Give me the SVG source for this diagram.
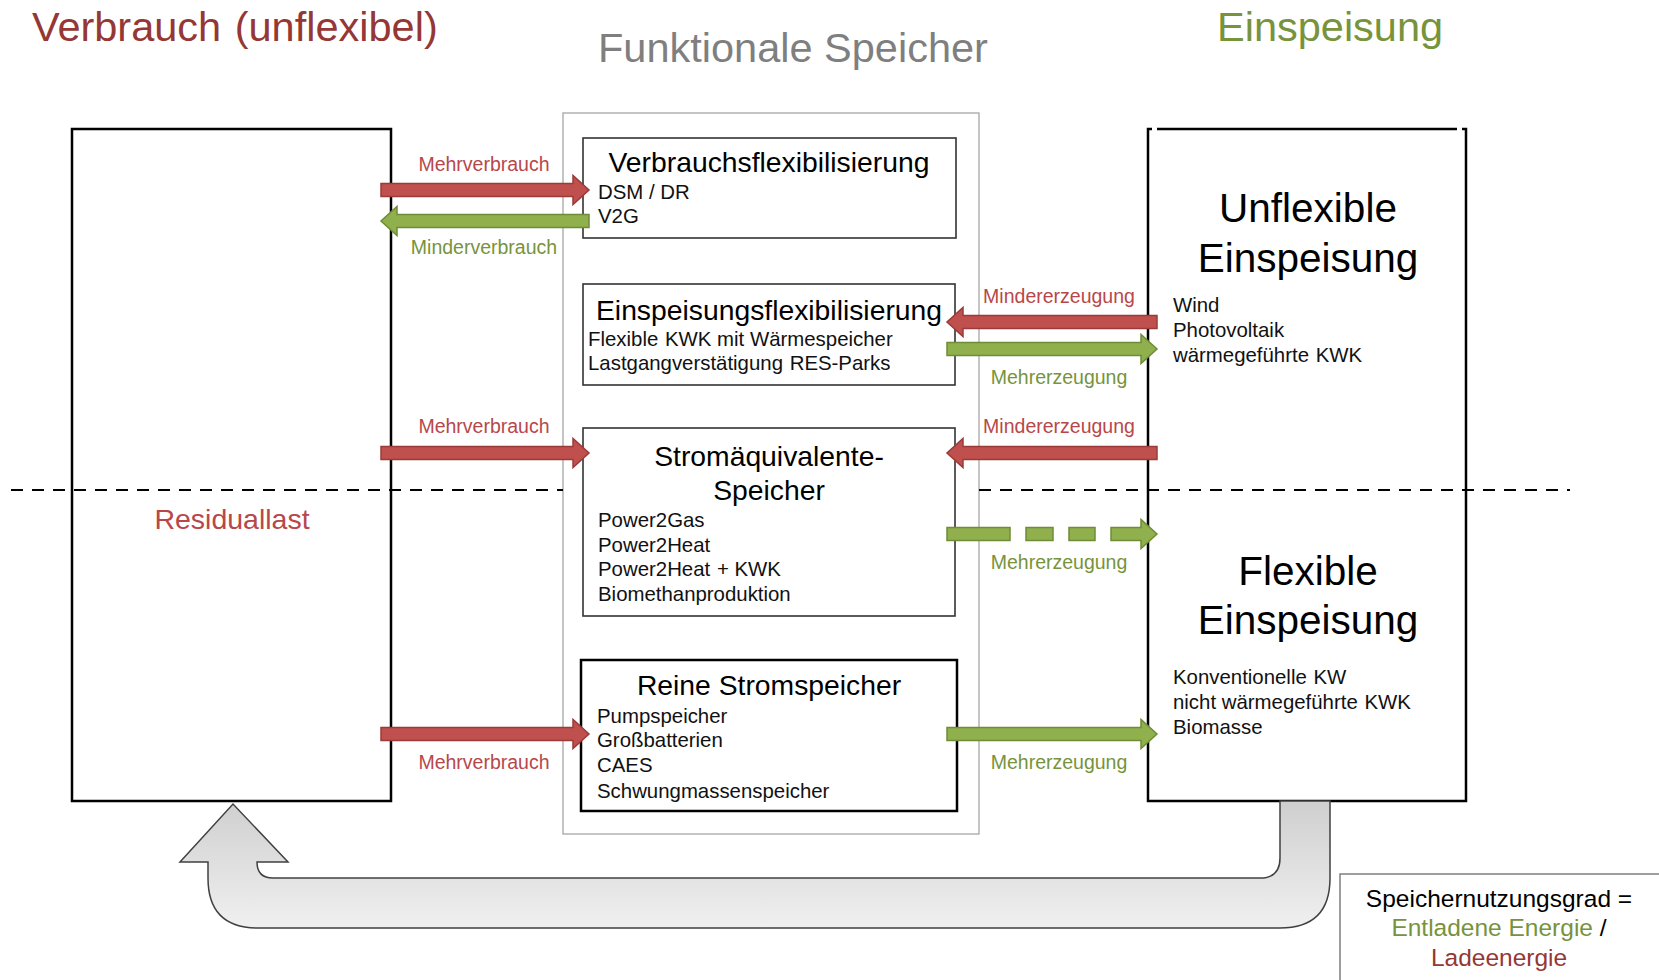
<svg xmlns="http://www.w3.org/2000/svg" width="1659" height="980" viewBox="0 0 1659 980">
<defs>
<linearGradient id="gU" x1="0" y1="0" x2="0" y2="1"><stop offset="0" stop-color="#cfcfcf"/><stop offset="1" stop-color="#f0f0f0"/></linearGradient>
<style>
text{font-family:"Liberation Sans",Arial,sans-serif}
.title{font-size:41.5px}
.bt{font-size:28.3px;fill:#000;text-anchor:middle}
.body{font-size:20.4px;fill:#111}
.big{font-size:40.5px;fill:#000;text-anchor:middle}
.lbl{font-size:19.5px;text-anchor:middle}
.red{fill:#b8474a}
.grn{fill:#77933c}
.box{fill:#fff;stroke:#333;stroke-width:1.6}
.bigbox{fill:#fff;stroke:#000;stroke-width:2.5}
.ar-r{fill:#c0504d;stroke:#9a3b39;stroke-width:1.5}
.ar-g{fill:#8fb04c;stroke:#6f8c36;stroke-width:1.5}
.dash{stroke:#000;stroke-width:2;stroke-dasharray:12 9;fill:none}
</style>
</defs>
<rect width="1659" height="980" fill="#fff"/>

<text class="title" x="32" y="41" fill="#953735">Verbrauch <tspan dx="2">(unflexibel)</tspan></text>
<text class="title" x="598" y="62" fill="#7f7f7f">Funktionale Speicher</text>
<text class="title" x="1217" y="41" fill="#77933c">Einspeisung</text>

<g id="verbrauch"><rect class="bigbox" x="72" y="129" width="319" height="672"/></g>

<g id="einspeisung">
<rect x="1148" y="129" width="318" height="672" fill="#fff"/>
<path d="M1152 129 H1148 V801 H1466 V129 H1462 M1157 129 H1457" fill="none" stroke="#000" stroke-width="2.5"/>
<text class="big" x="1308" y="222">Unflexible</text>
<text class="big" x="1308" y="272">Einspeisung</text>
<text class="body" x="1173" y="312">Wind</text>
<text class="body" x="1173" y="337">Photovoltaik</text>
<text class="body" x="1173" y="362">wärmegeführte <tspan dx="1">KWK</tspan></text>
<text class="big" x="1308" y="585">Flexible</text>
<text class="big" x="1308" y="634">Einspeisung</text>
<text class="body" x="1173" y="684">Konventionelle <tspan dx="1">KW</tspan></text>
<text class="body" x="1173" y="709">nicht wärmegeführte <tspan dx="1">KWK</tspan></text>
<text class="body" x="1173" y="734">Biomasse</text>
</g>

<g id="speicher"><rect x="563" y="113" width="416" height="721" fill="#fff" stroke="#a6a6a6" stroke-width="1.3"/></g>

<g id="lines">
<line class="dash" x1="11" y1="490" x2="563" y2="490"/>
<line class="dash" x1="979" y1="490" x2="1570" y2="490"/>
</g>

<text x="232" y="529" font-size="28.5" text-anchor="middle" class="red">Residuallast</text>

<g id="box1">
<rect class="box" x="583" y="138" width="373" height="100"/>
<text class="bt" x="769" y="172">Verbrauchsflexibilisierung</text>
<text class="body" x="598" y="199">DSM / DR</text>
<text class="body" x="598" y="223">V2G</text>
</g>
<g id="box2">
<rect class="box" x="583" y="284" width="372" height="101"/>
<text class="bt" x="769" y="320">Einspeisungsflexibilisierung</text>
<text class="body" x="588" y="346">Flexible <tspan dx="1">KWK mit Wärmespeicher</tspan></text>
<text class="body" x="588" y="370">Lastgangverstätigung <tspan dx="1">RES-Parks</tspan></text>
</g>
<g id="box3">
<rect class="box" x="583" y="428" width="372" height="188"/>
<text class="bt" x="769" y="466">Stromäquivalente-</text>
<text class="bt" x="769" y="500">Speicher</text>
<text class="body" x="598" y="527">Power2Gas</text>
<text class="body" x="598" y="552">Power2Heat</text>
<text class="body" x="598" y="576">Power2Heat <tspan dx="1">+ KWK</tspan></text>
<text class="body" x="598" y="601">Biomethanproduktion</text>
</g>
<g id="box4">
<rect x="581" y="660" width="376" height="151" fill="#fff" stroke="#000" stroke-width="2.5"/>
<text class="bt" x="769" y="695">Reine Stromspeicher</text>
<text class="body" x="597" y="723">Pumpspeicher</text>
<text class="body" x="597" y="747">Großbatterien</text>
<text class="body" x="597" y="772">CAES</text>
<text class="body" x="597" y="798">Schwungmassenspeicher</text>
</g>

<g id="connectors">
<path class="ar-r" d="M381 183.5 H573 V175.5 L589 190 L573 204.5 V196.5 H381 Z"/>
<path class="ar-g" d="M589 214.5 H397 V206.5 L381 221 L397 235.5 V227.5 H589 Z"/>
<path class="ar-r" d="M1157 315.5 H963 V307.5 L947 322 L963 336.5 V328.5 H1157 Z"/>
<path class="ar-g" d="M947 342.5 H1141 V334.5 L1157 349 L1141 363.5 V355.5 H947 Z"/>
<path class="ar-r" d="M381 446.5 H573 V438.5 L589 453 L573 467.5 V459.5 H381 Z"/>
<path class="ar-r" d="M1157 446.5 H963 V438.5 L947 453 L963 467.5 V459.5 H1157 Z"/>
<g class="ar-g">
<rect x="947" y="527.5" width="63" height="13"/>
<rect x="1026" y="527.5" width="27" height="13"/>
<rect x="1069" y="527.5" width="26" height="13"/>
<path d="M1111 527.5 H1141 V519.5 L1157 534 L1141 548.5 V540.5 H1111 Z"/>
</g>
<path class="ar-r" d="M381 727.5 H573 V719.5 L589 734 L573 748.5 V740.5 H381 Z"/>
<path class="ar-g" d="M947 727.5 H1141 V719.5 L1157 734 L1141 748.5 V740.5 H947 Z"/>
<path d="M1280 801 V858 Q1280 878 1260 878 H273 Q257 878 257 862 H288 L233 804 L180 862 H208 V878 Q208 928 258 928 H1280 Q1330 928 1330 878 V801 Z" fill="url(#gU)" stroke="#404040" stroke-width="1.5"/>
</g>

<g id="labels">
<text class="lbl red" x="484" y="171">Mehrverbrauch</text>
<text class="lbl grn" x="484" y="254">Minderverbrauch</text>
<text class="lbl red" x="1059" y="303">Mindererzeugung</text>
<text class="lbl grn" x="1059" y="384">Mehrerzeugung</text>
<text class="lbl red" x="484" y="433">Mehrverbrauch</text>
<text class="lbl red" x="1059" y="433">Mindererzeugung</text>
<text class="lbl grn" x="1059" y="569">Mehrerzeugung</text>
<text class="lbl red" x="484" y="769">Mehrverbrauch</text>
<text class="lbl grn" x="1059" y="769">Mehrerzeugung</text>
</g>

<g id="legend">
<rect x="1340" y="874" width="330" height="120" fill="#fff" stroke="#7f7f7f" stroke-width="1.5"/>
<text x="1499" y="907" font-size="24.5" text-anchor="middle" fill="#000">Speichernutzungsgrad =</text>
<text x="1499" y="936" font-size="24.5" text-anchor="middle"><tspan fill="#77933c">Entladene Energie</tspan> <tspan fill="#000">/</tspan></text>
<text x="1499" y="966" font-size="24.5" text-anchor="middle" fill="#953735">Ladeenergie</text>
</g>
</svg>
